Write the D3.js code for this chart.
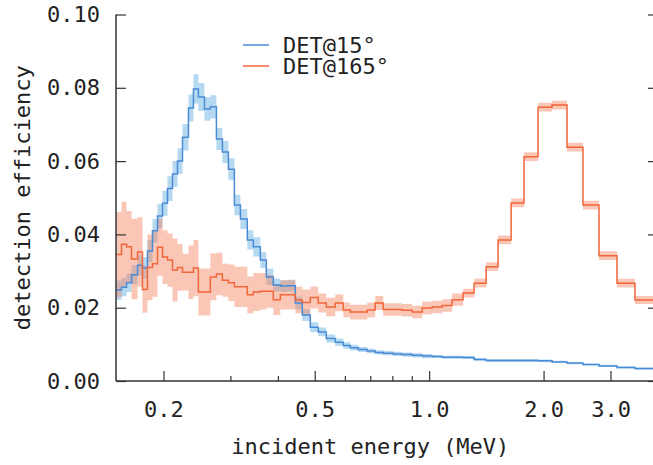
<!DOCTYPE html>
<html>
<head>
<meta charset="utf-8">
<script src="https://cdn.jsdelivr.net/npm/d3@7"></script>
<style>
  body { margin: 0; background: #fff; }
  text { font-family: "DejaVu Sans Mono", monospace; fill: #222; }
</style>
</head>
<body>
<svg id="chart" width="653" height="465"></svg>
<script>
// bin edges in MeV
const binEdges = [0.1504, 0.1551, 0.1599, 0.1648, 0.1709, 0.1761, 0.1815, 0.1871, 0.1929, 0.1988,
  0.2049, 0.2112, 0.2177, 0.2244, 0.2327, 0.2398, 0.2471, 0.2563, 0.2657, 0.2756,
  0.2858, 0.2963, 0.3073, 0.3187, 0.3323, 0.3447, 0.3596, 0.3729, 0.3890, 0.4059,
  0.4261, 0.4445, 0.4637, 0.4867, 0.5108, 0.5362, 0.5662, 0.5943, 0.6200, 0.6507,
  0.6871, 0.7211, 0.7571, 0.8041, 0.8491, 0.9023, 0.9585, 1.018, 1.082, 1.149,
  1.228, 1.313, 1.412, 1.518, 1.643, 1.777, 1.934, 2.105, 2.305, 2.539,
  2.798, 3.120, 3.479, 3.926];

const det15 = [0.0248, 0.0256, 0.0268, 0.0290, 0.0316, 0.0308, 0.0355, 0.0410, 0.0450, 0.0485,
  0.0525, 0.0565, 0.0600, 0.0665, 0.0745, 0.0797, 0.0775, 0.0742, 0.0748, 0.0660,
  0.0625, 0.0578, 0.0480, 0.0442, 0.0385, 0.0366, 0.0330, 0.0284, 0.0262, 0.0259,
  0.0260, 0.0213, 0.0180, 0.0147, 0.0134, 0.0116, 0.0106, 0.0097, 0.0091, 0.0086,
  0.0082, 0.0078, 0.0076, 0.0074, 0.0072, 0.0070, 0.0068, 0.0067, 0.0065, 0.0065,
  0.0064, 0.0059, 0.0056, 0.0056, 0.0056, 0.0056, 0.0055, 0.0052, 0.0049, 0.0045,
  0.0041, 0.0037, 0.0034];

const det15Err = [0.0026, 0.0025, 0.0025, 0.0026, 0.0028, 0.0030, 0.0030, 0.0032, 0.0033, 0.0034,
  0.0034, 0.0035, 0.0035, 0.0036, 0.0037, 0.0040, 0.0038, 0.0032, 0.0032, 0.0030,
  0.0030, 0.0030, 0.0028, 0.0027, 0.0026, 0.0026, 0.0022, 0.0022, 0.0018, 0.0016,
  0.0016, 0.0017, 0.0016, 0.0013, 0.0012, 0.0011, 0.0010, 0.0009, 0.0008, 0.0007,
  0.0006, 0.0006, 0.0006, 0.0006, 0.0006, 0.0006, 0.0006, 0.0004, 0.0004, 0.0004,
  0.0004, 0.0004, 0.0004, 0.0004, 0.0004, 0.0004, 0.0004, 0.0003, 0.0003, 0.0003,
  0.0003, 0.0003, 0.0003];

const det165 = [0.0345, 0.0373, 0.0366, 0.0333, 0.0352, 0.0250, 0.0310, 0.0320, 0.0365, 0.0338,
  0.0330, 0.0303, 0.0310, 0.0297, 0.0297, 0.0308, 0.0243, 0.0243, 0.0284, 0.0292,
  0.0275, 0.0268, 0.0257, 0.0257, 0.0235, 0.0243, 0.0245, 0.0245, 0.0222, 0.0235,
  0.0235, 0.0221, 0.0214, 0.0228, 0.0213, 0.0202, 0.0213, 0.0194, 0.0188, 0.0188,
  0.0194, 0.0213, 0.0195, 0.0195, 0.0193, 0.0188, 0.0199, 0.0202, 0.0206, 0.0222,
  0.0240, 0.0267, 0.0312, 0.0385, 0.0486, 0.0612, 0.0747, 0.0753, 0.0638, 0.0480,
  0.0342, 0.0267, 0.0221];

const det165Err = [0.0116, 0.0116, 0.0098, 0.0110, 0.0095, 0.0064, 0.0090, 0.0090, 0.0078, 0.0073,
  0.0073, 0.0086, 0.0064, 0.0050, 0.0073, 0.0077, 0.0064, 0.0064, 0.0064, 0.0058,
  0.0045, 0.0050, 0.0055, 0.0055, 0.0050, 0.0052, 0.0050, 0.0045, 0.0042, 0.0040,
  0.0040, 0.0036, 0.0036, 0.0030, 0.0026, 0.0025, 0.0023, 0.0020, 0.0020, 0.0020,
  0.0020, 0.0019, 0.0017, 0.0017, 0.0017, 0.0017, 0.0017, 0.0017, 0.0017, 0.0017,
  0.0012, 0.0012, 0.0012, 0.0012, 0.0012, 0.0012, 0.0012, 0.0012, 0.0012, 0.0012,
  0.0012, 0.0012, 0.0011];

const seriesNames = ["DET@15°", "DET@165°"];
const yTicks = [0.00, 0.02, 0.04, 0.06, 0.08, 0.10];
const xMajorTicks = [0.2, 0.5, 1.0, 2.0, 3.0];
const xMinorTicks = [0.3, 0.4, 0.6, 0.7, 0.8, 0.9];

const margin = {top: 14.5, right: -5, bottom: 84, left: 116};
const width = 653 - margin.left - margin.right;
const height = 465 - margin.top - margin.bottom;

const svg = d3.select("#chart");
const g = svg.append("g").attr("transform", `translate(${margin.left}, ${margin.top})`);

const x = d3.scaleLog().domain([0.15, 4.0]).range([0, width]);
const y = d3.scaleLinear().domain([0, 0.10]).range([height, 0]);

g.append("clipPath").attr("id", "plot-clip")
  .append("rect").attr("width", width).attr("height", height);

const series = [
  {name: seriesNames[0], values: det15, errors: det15Err, line: "#4a8bd6", band: "rgb(90,170,225)"},
  {name: seriesNames[1], values: det165, errors: det165Err, line: "#f2663a", band: "rgb(244,130,95)"}
];

const toPoints = (values, fn) => {
  const pts = values.map((v, i) => ({e: binEdges[i], v: fn(v, i)}));
  pts.push({e: binEdges[values.length], v: fn(values[values.length - 1], values.length - 1)});
  return pts;
};

const plot = g.append("g").attr("clip-path", "url(#plot-clip)");

series.forEach(s => {
  const pts = s.values.map((v, i) => ({e: binEdges[i], lo: v - s.errors[i], hi: v + s.errors[i]}));
  const last = s.values.length - 1;
  pts.push({e: binEdges[last + 1], lo: s.values[last] - s.errors[last], hi: s.values[last] + s.errors[last]});
  plot.append("path")
    .datum(pts)
    .attr("fill", s.band)
    .attr("fill-opacity", 0.45)
    .attr("d", d3.area().curve(d3.curveStepAfter)
      .x(d => x(d.e)).y0(d => y(d.lo)).y1(d => y(d.hi)));
});

series.forEach(s => {
  plot.append("path")
    .datum(toPoints(s.values, v => v))
    .attr("fill", "none")
    .attr("stroke", s.line)
    .attr("stroke-width", 1.5)
    .attr("d", d3.line().curve(d3.curveStepAfter).x(d => x(d.e)).y(d => y(d.v)));
});

// axes: spines left and bottom, ticks inward
const axisColor = "#333";
g.append("line").attr("x1", 0).attr("x2", 0).attr("y1", 0).attr("y2", height)
  .attr("stroke", axisColor).attr("stroke-width", 1.5);
g.append("line").attr("x1", 0).attr("x2", width).attr("y1", height).attr("y2", height)
  .attr("stroke", axisColor).attr("stroke-width", 1.5);
g.append("line").attr("x1", width).attr("x2", width).attr("y1", 0).attr("y2", height)
  .attr("stroke", axisColor).attr("stroke-width", 1.5);

const yAxis = g.append("g")
  .call(d3.axisLeft(y).tickValues(yTicks).tickFormat(d3.format(".2f")).tickSize(-10).tickPadding(16));
const yAxisRight = g.append("g").attr("transform", `translate(${width},0)`)
  .call(d3.axisRight(y).tickValues(yTicks).tickFormat("").tickSize(-10));
const xAxis = g.append("g").attr("transform", `translate(0,${height})`)
  .call(d3.axisBottom(x).tickValues(xMajorTicks).tickFormat(d3.format(".1f")).tickSize(-10).tickPadding(20));
const xMinor = g.append("g").attr("transform", `translate(0,${height})`)
  .call(d3.axisBottom(x).tickValues(xMinorTicks).tickFormat("").tickSize(-5));

[yAxis, yAxisRight, xAxis, xMinor].forEach(a => {
  a.select(".domain").remove();
  a.selectAll(".tick line").attr("stroke", axisColor).attr("stroke-width", 1.2);
  a.selectAll("text").style("font-size", "22px").attr("fill", "#222");
});

// axis titles
g.append("text")
  .attr("x", x(0.7))
  .attr("y", height + 73)
  .attr("text-anchor", "middle")
  .style("font-size", "22px")
  .text("incident energy (MeV)");

g.append("text")
  .attr("transform", `translate(${-94}, ${height / 2}) rotate(-90)`)
  .attr("text-anchor", "middle")
  .attr("dominant-baseline", "central")
  .style("font-size", "22px")
  .text("detection efficiency");

// legend
const legend = svg.append("g").attr("transform", "translate(243, 45)");
series.forEach((s, i) => {
  const row = legend.append("g").attr("transform", `translate(0, ${i * 21})`);
  row.append("line").attr("x1", 0).attr("x2", 26).attr("y1", 0).attr("y2", 0)
    .attr("stroke", s.line).attr("stroke-width", 1.5);
  row.append("text").attr("x", 40).attr("y", 0)
    .attr("dominant-baseline", "central")
    .style("font-size", "22px")
    .text(s.name);
});
</script>
</body>
</html>
